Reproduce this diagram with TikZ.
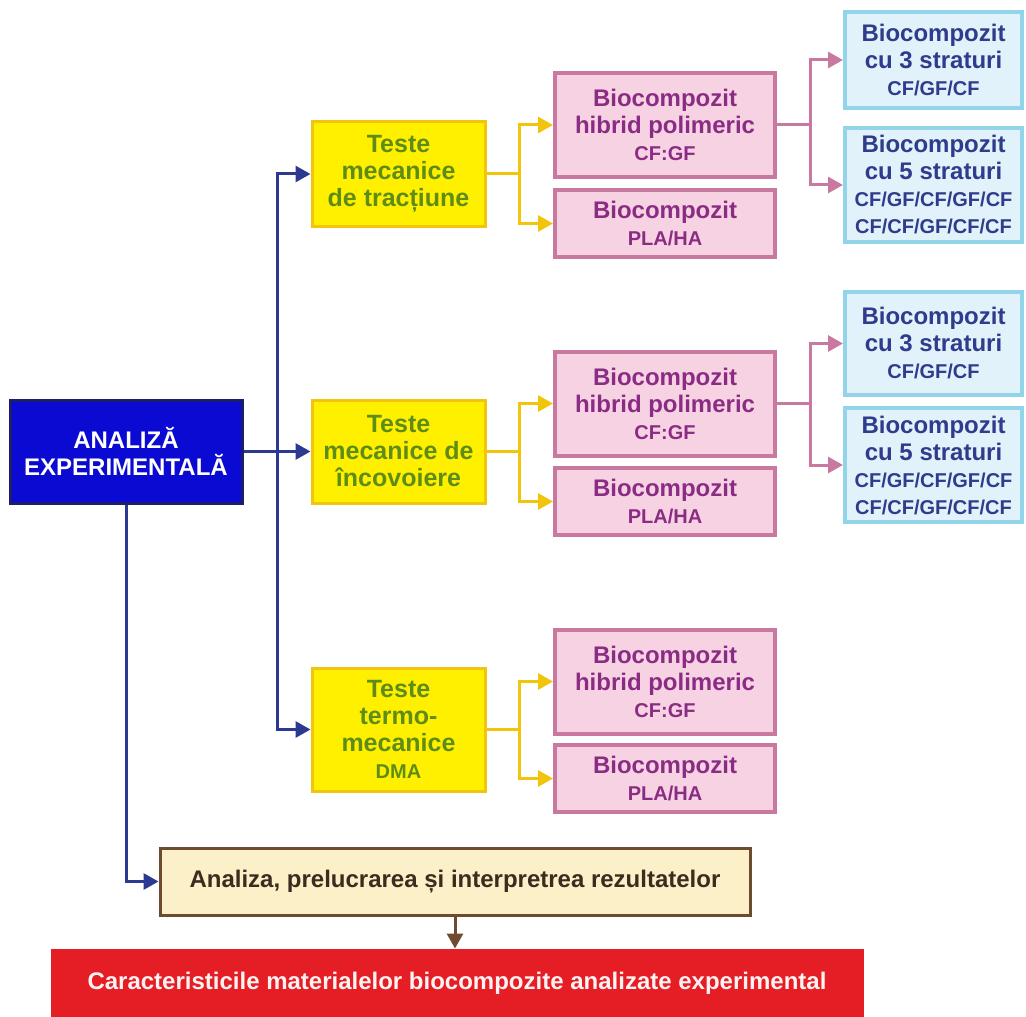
\documentclass[tikz,border=0pt]{standalone}
\usepackage{fontspec}
\setmainfont{Liberation Sans}
\usetikzlibrary{
    arrows.meta,
    positioning
}

\definecolor{mainfill}{HTML}{0A0AD2}
\definecolor{mainedge}{HTML}{1C1C70}
\definecolor{navyline}{HTML}{2B3990}
\definecolor{testfill}{HTML}{FFF000}
\definecolor{testedge}{HTML}{F2C40C}
\definecolor{testtext}{HTML}{5E8C16}
\definecolor{pinkfill}{HTML}{F7D2E3}
\definecolor{pinkedge}{HTML}{C9789F}
\definecolor{pinktext}{HTML}{8B2C84}
\definecolor{cyanfill}{HTML}{E2F2FA}
\definecolor{cyanedge}{HTML}{92D4EA}
\definecolor{cyantext}{HTML}{2F3B8C}
\definecolor{resfill}{HTML}{FCF0C8}
\definecolor{resedge}{HTML}{6E4B30}
\definecolor{restext}{HTML}{3A2C1E}
\definecolor{redfill}{HTML}{E51E25}

\newcommand{\subtxt}{\fontsize{10}{12}\selectfont}

\tikzset{
    box/.style={draw, line width=1.5pt, align=center, inner sep=0pt,
                font=\bfseries\fontsize{12}{13.5}\selectfont},
    mainbox/.style={box, fill=mainfill, draw=mainedge, text=white,
                    minimum width=116pt, minimum height=51.5pt},
    testbox/.style={box, fill=testfill, draw=testedge, text=testtext,
                    font=\bfseries\fontsize{12.5}{13.5}\selectfont, minimum width=86.5pt},
    pinkbox/.style={box, fill=pinkfill, draw=pinkedge, text=pinktext,
                    line width=2pt, minimum width=110pt},
    cyanbox/.style={box, fill=cyanfill, draw=cyanedge, text=cyantext,
                    line width=2pt, minimum width=88.5pt},
    resbox/.style={box, fill=resfill, draw=resedge, text=restext,
                   minimum width=295pt, minimum height=33.5pt},
    redbox/.style={box, fill=redfill, draw=redfill, text=white!95!red,
                   minimum width=405pt, minimum height=33pt},
    tip/.style={-{Triangle[length=7.5pt,width=8pt]}},
    bluearrow/.style={tip, navyline, line width=1.5pt},
    yline/.style={testedge, line width=1.5pt},
    yarrow/.style={tip, testedge, line width=1.5pt},
    pline/.style={pinkedge, line width=1.5pt},
    parrow/.style={tip, pinkedge, line width=1.5pt},
    brownarrow/.style={tip, resedge, line width=1.5pt}
}

\begin{document}
\begin{tikzpicture}[x=0.5pt, y=-0.5pt]
    \useasboundingbox (0,0) rectangle (1026,1016);

    % main box and the tests
    \node[mainbox] (main) at (126,451.5) {ANALIZĂ\\EXPERIMENTALĂ};

    \node[testbox, minimum height=52pt]   (y1) at (398.5,174)   {Teste\\mecanice\\de tracțiune};
    \node[testbox, minimum height=51.5pt] (y2) at (398.5,451.5) {Teste\\mecanice de\\încovoiere};
    \node[testbox, minimum height=61.5pt] (y3) at (398.5,729.5) {Teste\\termo-\\mecanice\\{\subtxt DMA}};

    % biocomposites
    \node[pinkbox, minimum height=52pt]   (p1a) at (665,125)   {Biocompozit\\hibrid polimeric\\{\subtxt CF:GF}};
    \node[pinkbox, minimum height=33.5pt] (p1b) at (665,223.5) {Biocompozit\\{\subtxt PLA/HA}};
    \node[pinkbox, minimum height=52pt]   (p2a) at (665,403.5) {Biocompozit\\hibrid polimeric\\{\subtxt CF:GF}};
    \node[pinkbox, minimum height=33.5pt] (p2b) at (665,501.5) {Biocompozit\\{\subtxt PLA/HA}};
    \node[pinkbox, minimum height=52pt]   (p3a) at (665,681.5) {Biocompozit\\hibrid polimeric\\{\subtxt CF:GF}};
    \node[pinkbox, minimum height=33.5pt] (p3b) at (665,778.5) {Biocompozit\\{\subtxt PLA/HA}};

    % layers
    \node[cyanbox, minimum height=48pt]   (c1a) at (933.5,60)    {Biocompozit\\cu 3 straturi\\{\subtxt CF/GF/CF}};
    \node[cyanbox, minimum height=57pt]   (c1b) at (933.5,185)   {Biocompozit\\cu 5 straturi\\{\subtxt CF/GF/CF/GF/CF}\\{\subtxt CF/CF/GF/CF/CF}};
    \node[cyanbox, minimum height=51.5pt] (c2a) at (933.5,343.5) {Biocompozit\\cu 3 straturi\\{\subtxt CF/GF/CF}};
    \node[cyanbox, minimum height=57pt]   (c2b) at (933.5,465)   {Biocompozit\\cu 5 straturi\\{\subtxt CF/GF/CF/GF/CF}\\{\subtxt CF/CF/GF/CF/CF}};

    % results
    \node[resbox] (res) at (455,881.5) {Analiza, prelucrarea și interpretrea rezultatelor};
    \node[redbox] (red) at (457,983) {Caracteristicile materialelor biocompozite analizate experimental};

    % blue connectors
    \coordinate (trunk) at (277,451.5);
    \draw[bluearrow] (main.east) -- (y2.west);
    \draw[bluearrow] (trunk) |- (y1.west);
    \draw[bluearrow] (trunk) |- (y3.west);
    \draw[bluearrow] (main.south) |- (res.west);
    \draw[brownarrow] (res.south) -- (res.south |- red.north);

    % yellow forks
    \coordinate (yf1) at ([xshift=16.5pt]y1.east);
    \coordinate (yf2) at ([xshift=16.5pt]y2.east);
    \coordinate (yf3) at ([xshift=16.5pt]y3.east);
    \draw[yline] (y1.east) -- (yf1);
    \draw[yarrow] (yf1) |- (p1a.west);
    \draw[yarrow] (yf1) |- (p1b.west);
    \draw[yline] (y2.east) -- (yf2);
    \draw[yarrow] (yf2) |- (p2a.west);
    \draw[yarrow] (yf2) |- (p2b.west);
    \draw[yline] (y3.east) -- (yf3);
    \draw[yarrow] (yf3) |- (p3a.west);
    \draw[yarrow] (yf3) |- (p3b.west);

    % pink forks
    \coordinate (pf1) at ([xshift=16.5pt]p1a.east);
    \coordinate (pf2) at ([xshift=16.5pt]p2a.east);
    \draw[pline] (p1a.east) -- (pf1);
    \draw[parrow] (pf1) |- (c1a.west);
    \draw[parrow] (pf1) |- (c1b.west);
    \draw[pline] (p2a.east) -- (pf2);
    \draw[parrow] (pf2) |- (c2a.west);
    \draw[parrow] (pf2) |- (c2b.west);
\end{tikzpicture}
\end{document}
